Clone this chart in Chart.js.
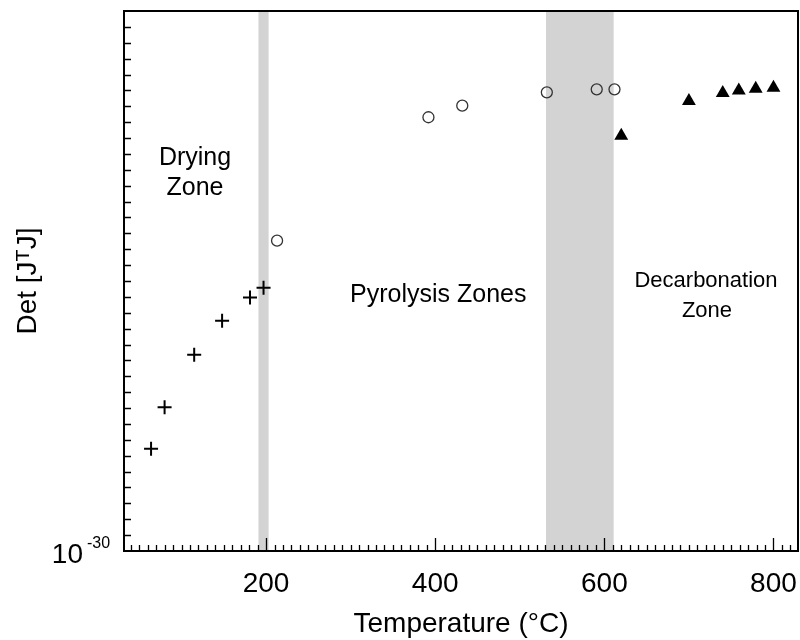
<!DOCTYPE html>
<html lang="en">
<head>
<meta charset="utf-8">
<title>Det [JᵀJ] vs Temperature</title>
<script src="https://cdn.jsdelivr.net/npm/chart.js"></script>
<style>
  html, body { margin: 0; padding: 0; background: #fff; }
</style>
</head>
<body>

<canvas id="detChart" width="800" height="640"></canvas>

<script>
    // temperature (°C) and Det [J^T J]
    const dryingTemps = [64, 80, 115, 148, 181, 197];
    const dryingDet = [2.75e-24, 1.12e-21, 2.29e-18, 3.16e-16, 9.3e-15, 3.8e-14];

    const pyroTemps = [213, 392, 432, 532, 591, 612];
    const pyroDet = [3.47e-11, 2.04e-3, 1.10e-2, 7.6e-2, 0.117, 0.117];

    const decarbTemps = [620, 700, 740, 759, 779, 800];
    const decarbDet = [1.38e-4, 2.19e-2, 6.9e-2, 9.8e-2, 0.129, 0.145];

    const xTickLabels = [200, 400, 600, 800];
    const yDecades = Array.from({ length: 35 }, (_, i) => Math.pow(10, i - 30)); // 1e-30 .. 1e4
    const zoneBands = [[191, 203], [531, 611]];

    const FONT = "'Liberation Sans', Arial, sans-serif";
    const ctx = document.getElementById('detChart').getContext('2d');

    function toPoints(xs, ys) {
        return xs.map((x, i) => ({ x: x, y: ys[i] }));
    }

    const framePlugin = {
        id: 'frame',
        beforeDatasetsDraw(chart) {
            const { ctx, chartArea: a, scales: { x } } = chart;
            ctx.save();
            ctx.fillStyle = '#d3d3d3';
            zoneBands.forEach(([t0, t1]) => {
                const x0 = x.getPixelForValue(t0);
                const x1 = x.getPixelForValue(t1);
                ctx.fillRect(x0, a.top, x1 - x0, a.bottom - a.top);
            });
            ctx.restore();
        },
        afterDraw(chart) {
            const { ctx, chartArea: a, scales: { x, y } } = chart;
            ctx.save();
            ctx.strokeStyle = '#000';

            // inward ticks
            ctx.lineWidth = 1.3;
            ctx.beginPath();
            yDecades.slice(1, -1).forEach(v => {
                const py = Math.round(y.getPixelForValue(v)) + 0.5;
                ctx.moveTo(a.left, py);
                ctx.lineTo(a.left + 7, py);
            });
            for (let t = 40; t <= 820; t += 10) {
                const px = Math.round(x.getPixelForValue(t)) + 0.5;
                const len = t % 200 === 0 ? 13 : 6;
                ctx.moveTo(px, a.bottom);
                ctx.lineTo(px, a.bottom - len);
            }
            ctx.stroke();

            // frame
            ctx.lineWidth = 2;
            ctx.strokeRect(a.left, a.top, a.right - a.left, a.bottom - a.top);

            // 10^-30 label
            const y0 = y.getPixelForValue(yDecades[0]);
            ctx.fillStyle = '#000';
            ctx.textBaseline = 'alphabetic';
            ctx.font = '28px ' + FONT;
            ctx.textAlign = 'right';
            ctx.fillText('10', 83, y0 + 12);
            ctx.font = '16px ' + FONT;
            ctx.textAlign = 'left';
            ctx.fillText('-30', 87, y0 - 3);

            // zone labels
            ctx.textAlign = 'center';
            ctx.font = '25px ' + FONT;
            ctx.fillText('Drying', 195, 165);
            ctx.fillText('Zone', 195, 195);
            ctx.textAlign = 'left';
            ctx.fillText('Pyrolysis Zones', 350, 302);
            ctx.textAlign = 'center';
            ctx.font = '22px ' + FONT;
            ctx.fillText('Decarbonation', 706, 287);
            ctx.fillText('Zone', 707, 317);
            ctx.restore();
        }
    };

    const chartInstance = new Chart(ctx, {
        type: 'scatter',
        data: {
            datasets: [
                {
                    label: 'Drying',
                    data: toPoints(dryingTemps, dryingDet),
                    pointStyle: 'cross',
                    pointRadius: 7,
                    borderColor: '#000',
                    borderWidth: 2
                },
                {
                    label: 'Pyrolysis',
                    data: toPoints(pyroTemps, pyroDet),
                    pointStyle: 'circle',
                    pointRadius: 5.5,
                    borderColor: '#333',
                    backgroundColor: 'rgba(0,0,0,0)',
                    borderWidth: 1.3
                },
                {
                    label: 'Decarbonation',
                    data: toPoints(decarbTemps, decarbDet),
                    pointStyle: 'triangle',
                    pointRadius: 8,
                    borderColor: '#000',
                    backgroundColor: '#000',
                    borderWidth: 0
                }
            ]
        },
        options: {
            responsive: false,
            animation: false,
            layout: {
                autoPadding: false,
                padding: { top: 11, right: 2, left: 0, bottom: 0 }
            },
            plugins: {
                legend: { display: false },
                tooltip: { enabled: false }
            },
            scales: {
                x: {
                    type: 'linear',
                    min: 32,
                    max: 829,
                    afterBuildTicks: s => { s.ticks = xTickLabels.map(v => ({ value: v })); },
                    afterFit: s => {
                        s.height = 89;
                        s.paddingLeft = 0;
                        s.paddingRight = 0;
                    },
                    grid: { display: false, drawTicks: false },
                    border: { display: false },
                    ticks: {
                        font: { family: FONT, size: 28 },
                        color: '#000',
                        padding: 16,
                        maxRotation: 0,
                        autoSkip: false
                    },
                    title: {
                        display: true,
                        text: 'Temperature (°C)',
                        color: '#000',
                        font: { family: FONT, size: 28, lineHeight: 1 },
                        padding: { top: 0, bottom: 2 }
                    }
                },
                y: {
                    type: 'logarithmic',
                    min: 1e-30,
                    max: 1e4,
                    afterBuildTicks: s => { s.ticks = yDecades.map(v => ({ value: v })); },
                    afterFit: s => {
                        s.width = 124;
                        s.paddingTop = 0;
                        s.paddingBottom = 0;
                    },
                    grid: { display: false, drawTicks: false },
                    border: { display: false },
                    ticks: { display: false },
                    title: {
                        display: true,
                        text: 'Det [JᵀJ]',
                        color: '#000',
                        font: { family: FONT, size: 28, lineHeight: 1.2 },
                        padding: { top: 11, bottom: 0 }
                    }
                }
            }
        },
        plugins: [framePlugin]
    });
</script>

</body>
</html>
